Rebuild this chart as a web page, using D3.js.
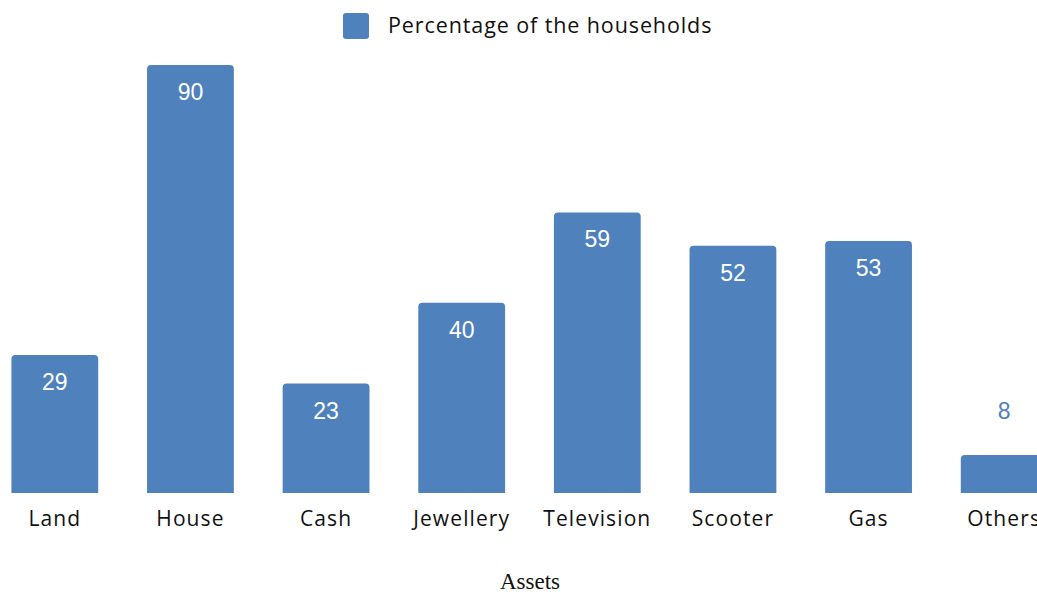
<!DOCTYPE html>
<html>
<head>
<meta charset="utf-8">
<script src="https://cdn.jsdelivr.net/npm/d3@7"></script>
<style>
  html, body { margin: 0; padding: 0; background: #fff; }
  svg { display: block; }
</style>
</head>
<body>
<svg id="chart" width="1037" height="594"></svg>
<script>
// Share of households owning each asset (%)
const categories = ["Land", "House", "Cash", "Jewellery", "Television", "Scooter", "Gas", "Others"];
const values = [29, 90, 23, 40, 59, 52, 53, 8];
const seriesName = "Percentage of the households";
const axisTitle = "Assets";

const barColor = "#4F81BD";
const svg = d3.select("#chart");

const baseline = 493;
const x = d3.scaleBand()
  .domain(categories)
  .range([-13, 1072])
  .paddingInner(0.36)
  .paddingOuter(0.18);

const y = d3.scaleLinear().domain([0, 90]).range([baseline, 65]);

// Bar outline with gently rounded top corners
function barPath(x0, y0, w, h, r) {
  r = Math.min(r, h, w / 2);
  return `M${x0},${y0 + h}V${y0 + r}Q${x0},${y0} ${x0 + r},${y0}` +
         `H${x0 + w - r}Q${x0 + w},${y0} ${x0 + w},${y0 + r}V${y0 + h}Z`;
}

const data = categories.map((c, i) => ({ c, v: values[i] }));

svg.append("g").selectAll("path")
  .data(data)
  .join("path")
  .attr("d", d => barPath(x(d.c), y(d.v), x.bandwidth(), baseline - y(d.v), 4))
  .attr("fill", barColor);

// Value labels: inside the bar when it is tall enough, otherwise above it
svg.append("g").selectAll("text")
  .data(data)
  .join("text")
  .attr("x", d => x(d.c) + x.bandwidth() / 2)
  .attr("y", d => (baseline - y(d.v) > 50) ? y(d.v) + 35 : y(d.v) - 36)
  .attr("text-anchor", "middle")
  .attr("font-family", "'Liberation Sans', Arial, sans-serif")
  .attr("font-size", 23)
  .attr("fill", d => (baseline - y(d.v) > 50) ? "#ffffff" : barColor)
  .text(d => d.v);

// Category axis labels
const xAxis = d3.axisBottom(x).tickSize(0).tickPadding(0);
const gx = svg.append("g")
  .attr("transform", `translate(0,${baseline})`)
  .call(xAxis);
gx.select(".domain").remove();
gx.selectAll("text")
  .attr("y", 33)
  .attr("dy", null)
  .attr("font-family", "'Open Sans', 'Noto Sans', sans-serif")
  .attr("font-size", 21)
  .attr("letter-spacing", 1.1)
  .attr("fill", "#111");

// Axis title
svg.append("text")
  .attr("x", 530)
  .attr("y", 589)
  .attr("text-anchor", "middle")
  .attr("font-family", "'Liberation Serif', 'Times New Roman', serif")
  .attr("font-size", 23)
  .attr("fill", "#111")
  .text(axisTitle);

// Legend
const legend = svg.append("g");
legend.append("rect")
  .attr("x", 343).attr("y", 13)
  .attr("width", 26).attr("height", 26)
  .attr("rx", 3)
  .attr("fill", barColor);
legend.append("text")
  .attr("x", 388).attr("y", 33)
  .attr("font-family", "'Open Sans', 'Noto Sans', sans-serif")
  .attr("font-size", 21.5)
  .attr("letter-spacing", 0.9)
  .attr("fill", "#111")
  .text(seriesName);
</script>
</body>
</html>
